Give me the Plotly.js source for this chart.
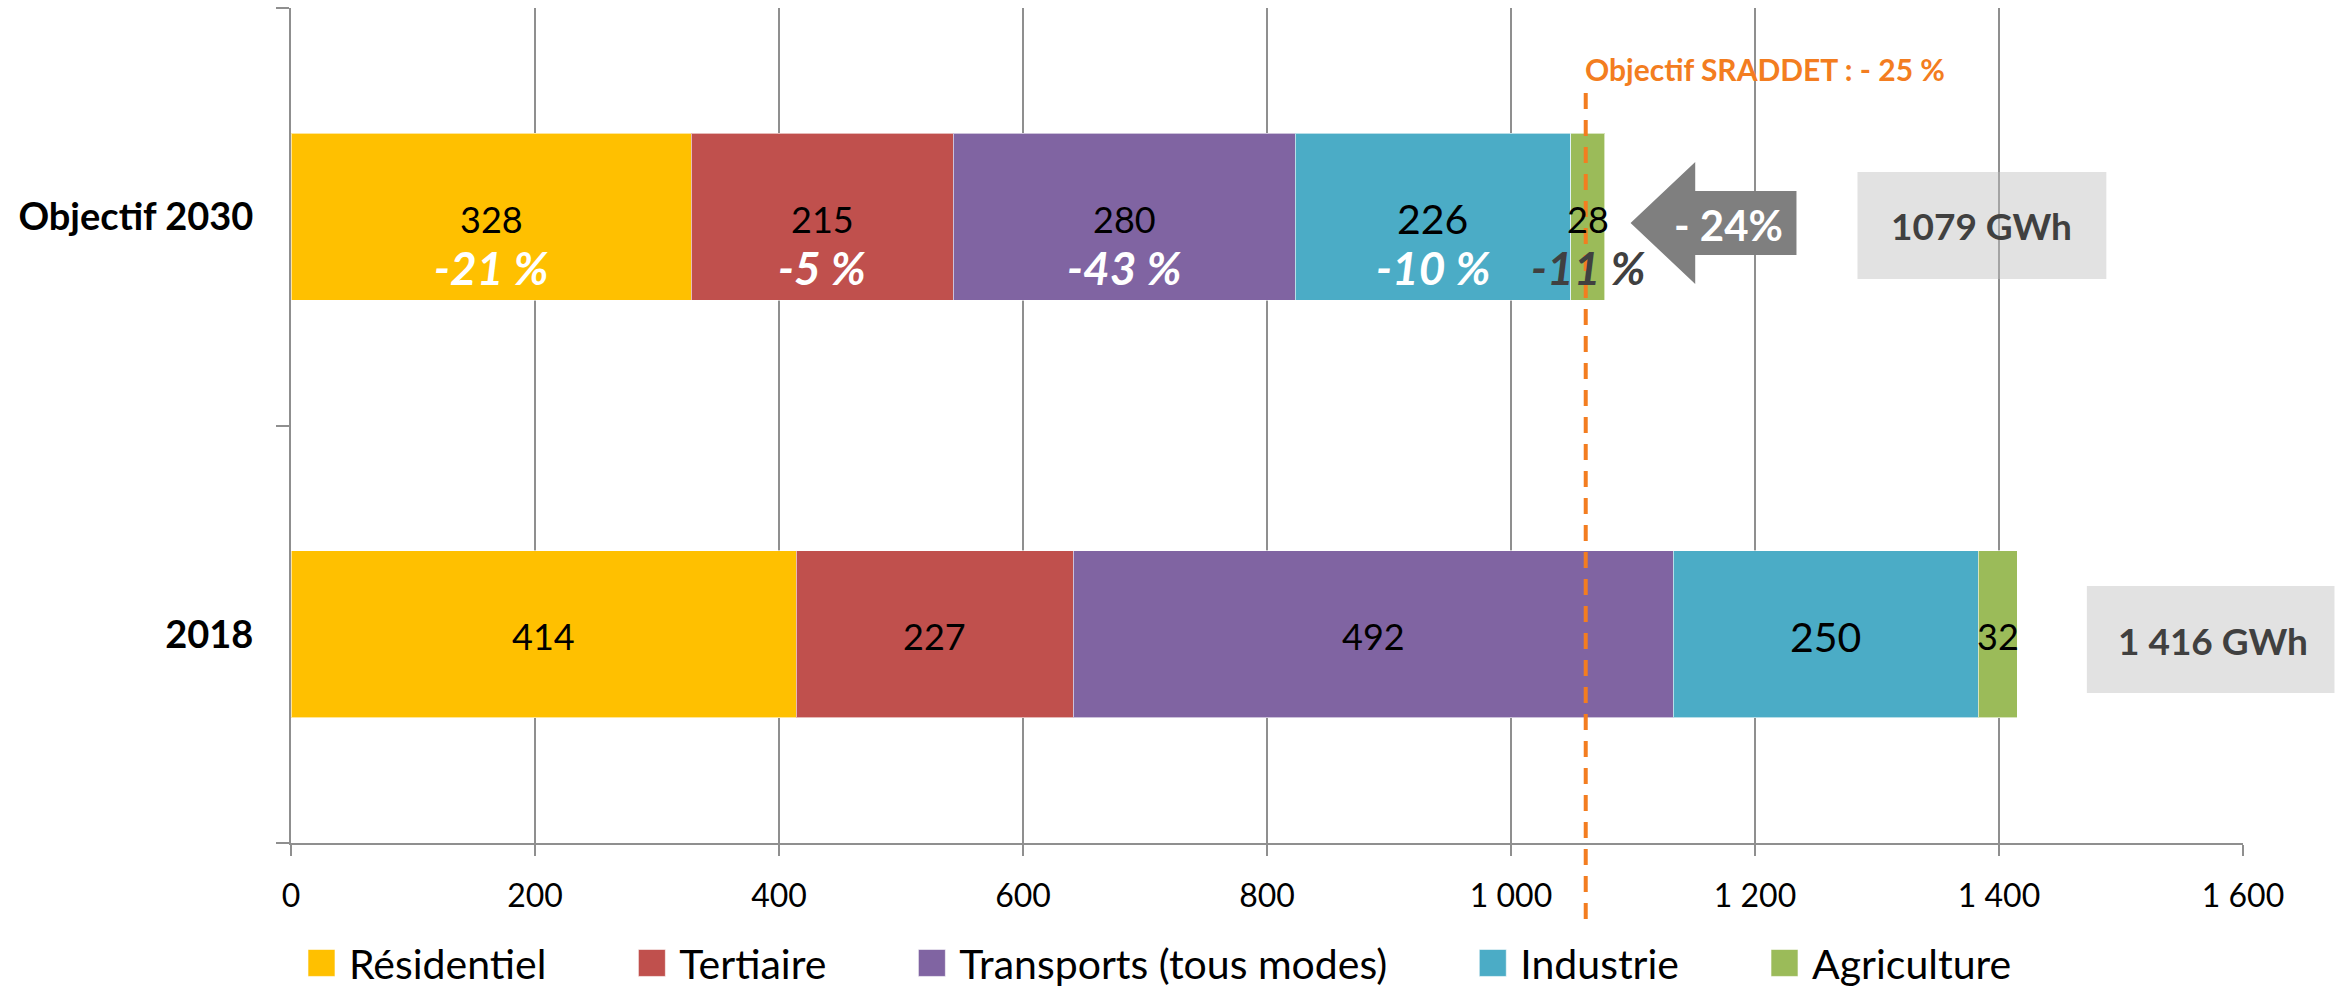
<!DOCTYPE html>
<html>
<head>
<meta charset="utf-8">
<script src="https://cdn.plot.ly/plotly-3.0.1.min.js"></script>
<style>
  html, body { margin: 0; padding: 0; background: #fff; }
  #chart { width: 2341px; height: 989px; }
</style>
</head>
<body>
<div id="chart"></div>
<script>
// categories (bottom to top)
const categories = ['2018', 'Objectif 2030'];
const seriesNames = ['Résidentiel', 'Tertiaire', 'Transports (tous modes)', 'Industrie', 'Agriculture'];
const values2018 = [414, 227, 492, 250, 32];
const values2030 = [328, 215, 280, 226, 28];
const change2030 = [-21, -5, -43, -10, -11];
const totalLabels = ['1 416 GWh', '1079 GWh'];
const globalChange = '- 24%';
const objectiveRate = -25;

// styles
const seriesColors = ['#FFC000', '#C0504D', '#8064A2', '#4BACC6', '#9BBB59'];
const valueFontSizes = [36, 36, 36, 41, 36];
const changeColors = ['#fff', '#fff', '#fff', '#fff', '#404040'];
const orange = '#F37D20';
const gridGrey = '#8f8f8f';
const xMax = 1600;

const rows = [values2018, values2030];

const traces = seriesNames.map((name, i) => ({
    type: 'bar',
    orientation: 'h',
    name: name,
    y: categories,
    x: rows.map(r => r[i]),
    marker: { color: seriesColors[i], line: { color: 'rgba(255,255,255,0.6)', width: 1 } },
    hoverinfo: 'skip'
}));

const annotations = [];

// value labels in each segment, percent changes under the 2030 ones
rows.forEach((row, r) => {
    let start = 0;
    row.forEach((v, i) => {
        const mid = start + v / 2;
        annotations.push({
            x: mid, y: r, xref: 'x', yref: 'y',
            text: String(v), showarrow: false, yshift: -2,
            xanchor: 'center', yanchor: 'middle',
            font: { size: valueFontSizes[i], color: '#000' }
        });
        if (r === 1) {
            annotations.push({
                x: mid, y: r, xref: 'x', yref: 'y',
                text: '<b><i>' + change2030[i] + ' %</i></b>', showarrow: false, yshift: -51,
                xanchor: 'center', yanchor: 'middle',
                font: { size: 46, color: changeColors[i] }
            });
        }
        start += v;
    });
});

const total2018 = values2018.reduce((a, b) => a + b, 0);
const objectiveX = total2018 * (1 + objectiveRate / 100);

annotations.push({
    x: objectiveX, y: 0.927, xref: 'x', yref: 'paper',
    xanchor: 'left', yanchor: 'middle', xshift: -3,
    text: '<b>Objectif SRADDET : - ' + Math.abs(objectiveRate) + ' %</b>',
    showarrow: false, font: { size: 30, color: orange }
});

// arrow text and the two totals
annotations.push({
    x: 1178, y: 0.740, xref: 'x', yref: 'paper',
    xanchor: 'center', yanchor: 'middle',
    text: '<b>' + globalChange + '</b>', showarrow: false,
    font: { size: 42, color: '#fff' }
});
annotations.push({
    x: 1575, y: 0.242, xref: 'x', yref: 'paper',
    xanchor: 'center', yanchor: 'middle',
    text: '<b>' + totalLabels[0] + '</b>', showarrow: false,
    font: { size: 37, color: '#404040' }
});
annotations.push({
    x: 1386, y: 0.7395, xref: 'x', yref: 'paper',
    xanchor: 'center', yanchor: 'middle',
    text: '<b>' + totalLabels[1] + '</b>', showarrow: false,
    font: { size: 37, color: '#404040' }
});

const px = d => d / xMax;   // data x -> paper x

const shapes = [
    {
        type: 'line', xref: 'paper', yref: 'paper',
        x0: px(objectiveX), x1: px(objectiveX), y0: -0.091, y1: 0.8994,
        line: { color: orange, width: 4, dash: '16px,11px' }
    },
    {
        type: 'path', xref: 'paper', yref: 'paper',
        path: 'M ' + px(1098) + ',0.7425 L ' + px(1151) + ',0.8156 L ' + px(1151) + ',0.7808 L ' +
              px(1234) + ',0.7808 L ' + px(1234) + ',0.7042 L ' + px(1151) + ',0.7042 L ' +
              px(1151) + ',0.6695 Z',
        fillcolor: '#7F7F7F', line: { width: 0 }
    },
    {
        type: 'rect', xref: 'paper', yref: 'paper',
        x0: px(1284), x1: px(1488), y0: 0.6754, y1: 0.8036,
        fillcolor: 'rgba(190,190,190,0.45)', line: { width: 0 }
    },
    {
        type: 'rect', xref: 'paper', yref: 'paper',
        x0: px(1472), x1: px(1675), y0: 0.1796, y1: 0.3078,
        fillcolor: 'rgba(190,190,190,0.45)', line: { width: 0 }
    }
];

const layout = {
    width: 2341,
    height: 989,
    autosize: false,
    margin: { l: 291, r: 98, t: 8, b: 146 },
    paper_bgcolor: '#fff',
    plot_bgcolor: '#fff',
    font: { family: 'Lato, "Open Sans", sans-serif', color: '#000' },
    separators: ', ',
    barmode: 'stack',
    bargap: 0.6,
    xaxis: {
        range: [0, xMax],
        dtick: 200,
        tick0: 0,
        separatethousands: true,
        showgrid: true,
        gridcolor: gridGrey,
        gridwidth: 1.5,
        zeroline: false,
        showline: true,
        linecolor: gridGrey,
        linewidth: 2,
        ticks: 'outside',
        ticklen: 11,
        tickwidth: 1.5,
        tickcolor: gridGrey,
        ticklabelstandoff: 13,
        tickfont: { size: 32, color: '#000' },
        fixedrange: true
    },
    yaxis: {
        type: 'category',
        categoryarray: categories,
        range: [-0.5, 1.5],
        showgrid: false,
        showline: true,
        linecolor: gridGrey,
        linewidth: 2,
        ticks: 'outside',
        tickson: 'boundaries',
        ticklen: 13,
        tickwidth: 2,
        tickcolor: gridGrey,
        ticklabelstandoff: 28,
        tickfont: { size: 38, color: '#000', weight: 'bold' },
        fixedrange: true
    },
    legend: {
        orientation: 'h',
        traceorder: 'normal',
        xref: 'container', yref: 'container',
        x: 0.478, xanchor: 'center',
        y: 0.026, yanchor: 'middle',
        itemwidth: 118,
        font: { size: 41, color: '#000' }
    },
    showlegend: true,
    annotations: annotations,
    shapes: shapes
};

const config = { displayModeBar: false, responsive: false };

Plotly.newPlot('chart', traces, layout, config).then(() => {
    // bigger legend squares, set just left of each label like the original
    document.querySelectorAll('.legend .traces').forEach(item => {
        const text = item.querySelector('text.legendtext');
        const textX = text ? parseFloat(text.getAttribute('x')) : 128;
        item.querySelectorAll('.legendpoints path').forEach(p => {
            p.setAttribute('d', 'M13.5,13.5H-13.5V-13.5H13.5Z');
            p.setAttribute('transform', 'translate(' + (textX - 14 - 13.5) + ',0)');
        });
    });
});
</script>
</body>
</html>
